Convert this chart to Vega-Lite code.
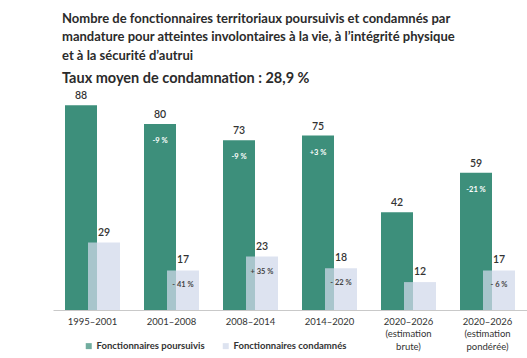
{
  "$schema": "https://vega.github.io/schema/vega-lite/v6.json",
  "autosize": {"type": "none"},
  "padding": {"left": 53, "top": 96, "right": 0, "bottom": 48},
  "width": 474,
  "height": 214,
  "background": "white",
  "title": {
    "text": ["Nombre de fonctionnaires territoriaux poursuivis et condamnés par", "mandature pour atteintes involontaires à la vie, à l’intégrité physique", "et à la sécurité d’autrui"],
    "subtitle": "Taux moyen de condamnation : 28,9 %",
    "anchor": "start",
    "frame": "group",
    "dx": 9,
    "offset": 6,
    "font": "Lato",
    "fontSize": 13,
    "fontWeight": "bold",
    "color": "#2b2b2b",
    "lineHeight": 18.5,
    "subtitleFont": "Lato",
    "subtitleFontSize": 14.5,
    "subtitleFontWeight": "bold",
    "subtitleColor": "#2b2b2b",
    "subtitlePadding": 9
  },
  "data": {
    "values": [
      {"p": "1995–2001", "s": "Fonctionnaires poursuivis", "v": 88, "c": ""},
      {"p": "1995–2001", "s": "Fonctionnaires condamnés", "v": 29, "c": ""},
      {"p": "2001–2008", "s": "Fonctionnaires poursuivis", "v": 80, "c": "-9 %"},
      {"p": "2001–2008", "s": "Fonctionnaires condamnés", "v": 17, "c": "- 41 %"},
      {"p": "2008–2014", "s": "Fonctionnaires poursuivis", "v": 73, "c": "-9 %"},
      {"p": "2008–2014", "s": "Fonctionnaires condamnés", "v": 23, "c": "+ 35 %"},
      {"p": "2014–2020", "s": "Fonctionnaires poursuivis", "v": 75, "c": "+3 %"},
      {"p": "2014–2020", "s": "Fonctionnaires condamnés", "v": 18, "c": "- 22 %"},
      {"p": "2020–2026|(estimation|brute)", "s": "Fonctionnaires poursuivis", "v": 42, "c": ""},
      {"p": "2020–2026|(estimation|brute)", "s": "Fonctionnaires condamnés", "v": 12, "c": ""},
      {"p": "2020–2026|(estimation|pondérée)", "s": "Fonctionnaires poursuivis", "v": 59, "c": "-21 %"},
      {"p": "2020–2026|(estimation|pondérée)", "s": "Fonctionnaires condamnés", "v": 17, "c": "- 6 %"}
    ]
  },
  "encoding": {
    "x": {
      "field": "p",
      "type": "nominal",
      "sort": null,
      "scale": {"paddingInner": 0, "paddingOuter": 0},
      "axis": {
        "title": null,
        "labelAngle": 0,
        "labelExpr": "split(datum.label, '|')",
        "labelFont": "Lato",
        "labelFontSize": 9.5,
        "labelColor": "#333333",
        "labelLineHeight": 12.5,
        "labelPadding": 6,
        "ticks": false,
        "tickSize": 0,
        "domainColor": "#c9c9c9",
        "domainWidth": 1.2,
        "grid": false
      }
    },
    "y": {
      "field": "v",
      "type": "quantitative",
      "scale": {"domain": [0, 92], "nice": false, "zero": true},
      "axis": null
    }
  },
  "layer": [
    {
      "transform": [{"filter": "datum.s == 'Fonctionnaires poursuivis'"}],
      "mark": {"type": "bar", "width": 32, "xOffset": -11.5},
      "encoding": {
        "color": {
          "field": "s",
          "type": "nominal",
          "scale": {"domain": ["Fonctionnaires poursuivis", "Fonctionnaires condamnés"], "range": ["#3d8f7b", "#d1d9ea"]},
          "legend": {
            "title": null,
            "orient": "none",
            "direction": "horizontal",
            "legendX": 31,
            "legendY": 245,
            "symbolType": "square",
            "symbolSize": 36,
            "symbolStrokeWidth": 0,
            "labelFont": "Lato",
            "labelFontSize": 9.5,
            "labelFontWeight": "bold",
            "labelColor": "#333333",
            "labelOffset": 3,
            "columnPadding": 16
          }
        }
      }
    },
    {
      "transform": [{"filter": "datum.s == 'Fonctionnaires condamnés'"}],
      "mark": {"type": "bar", "width": 32, "xOffset": 11.5, "opacity": 0.73},
      "encoding": {
        "color": {"field": "s", "type": "nominal"}
      }
    },
    {
      "transform": [{"filter": "datum.s == 'Fonctionnaires poursuivis'"}],
      "mark": {"type": "text", "xOffset": -11.5, "baseline": "bottom", "dy": -4, "font": "Lato", "fontSize": 10.5, "fontWeight": 600, "color": "#333333"},
      "encoding": {"text": {"field": "v"}}
    },
    {
      "transform": [{"filter": "datum.s == 'Fonctionnaires condamnés'"}],
      "mark": {"type": "text", "xOffset": 11.5, "baseline": "bottom", "dy": -5, "font": "Lato", "fontSize": 10.5, "fontWeight": 600, "color": "#333333"},
      "encoding": {"text": {"field": "v"}}
    },
    {
      "transform": [{"filter": "datum.s == 'Fonctionnaires poursuivis'"}],
      "mark": {"type": "text", "xOffset": -11.5, "baseline": "middle", "dy": 17, "font": "Lato", "fontSize": 7.5, "fontWeight": "bold", "color": "white"},
      "encoding": {"text": {"field": "c"}}
    },
    {
      "transform": [{"filter": "datum.s == 'Fonctionnaires condamnés'"}],
      "mark": {"type": "text", "xOffset": 11.5, "baseline": "middle", "dy": 15, "font": "Lato", "fontSize": 7.5, "fontWeight": "bold", "color": "#444444"},
      "encoding": {"text": {"field": "c"}}
    }
  ],
  "config": {
    "view": {"stroke": null}
  }
}
